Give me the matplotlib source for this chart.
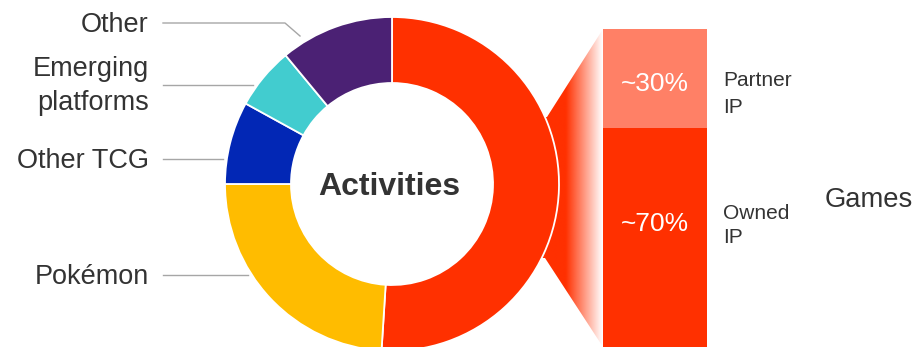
import numpy as np
import matplotlib
matplotlib.use("Agg")
import matplotlib.pyplot as plt
from matplotlib.patches import Polygon

plt.rcParams['font.family'] = ['Liberation Sans', 'DejaVu Sans']

# ---- data ----
categories = ["Games", "Pokémon", "Other TCG", "Emerging\nplatforms", "Other"]
shares = [51, 24, 8, 6, 11]
colors = ["#FF3000", "#FFBC00", "#0227B5", "#42CCCF", "#4B2174"]

games_parts = ["Partner\nIP", "Owned\nIP"]
games_shares = [30, 70]
games_labels = ["~30%", "~70%"]
games_colors = ["#FF8066", "#FF3000"]

center_title = "Activities"
games_title = "Games"

# ---- layout (pixel-like coordinates) ----
W, H = 917, 347
fig = plt.figure(figsize=(W / 100, H / 100), dpi=100)
ax = fig.add_axes([0, 0, 1, 1])

cx, cy, R, r_in = 392, 184, 167, 101
txt = "#333333"
gray = "#A6A6A6"

# connector with gradient (behind donut)
poly_pts = [(603, 29), (547, 117), (500, 117), (500, 258), (545, 258), (603, 347)]
poly = Polygon(poly_pts, closed=True, facecolor="none", edgecolor="none")
ax.add_patch(poly)
xs = np.linspace(495, 603, 300)
alpha = np.clip((603 - xs) / (603 - 566), 0, 1)
img = np.zeros((2, len(xs), 4))
img[..., 0] = 1.0
img[..., 1] = 0x30 / 255
img[..., 2] = 0.0
img[..., 3] = alpha[None, :]
im = ax.imshow(img, extent=(495, 603, 360, 20), aspect="auto", zorder=1,
               interpolation="bilinear")
im.set_clip_path(poly)

# donut
wedges, _ = ax.pie(shares, colors=colors, center=(cx, cy), radius=R,
                   startangle=-90, counterclock=True,
                   wedgeprops=dict(width=R - r_in, edgecolor="white", linewidth=1.3))
for w in wedges:
    w.set_zorder(2)

# stacked bar for games breakdown
scale = 3.3
bar_x, bar_w, bar_top = 655, 104, 29
bottom = bar_top
bar_mids = []
for val, col in zip(games_shares, games_colors):
    h = val * scale
    ax.bar(bar_x, h, width=bar_w, bottom=bottom, color=col, zorder=2)
    bar_mids.append(bottom)
    bottom += h

ax.set_xlim(0, W)
ax.set_ylim(H, 0)
ax.set_aspect("auto")
ax.axis("off")

# center title
ax.text(389, 195, center_title, fontsize=23, fontweight="bold", color=txt,
        ha="center", va="baseline", zorder=5)

# left labels with leader lines
label_info = {
    "Other": dict(baselines=[32], line=[(163, 23), (285, 23), (300, 36)]),
    "Emerging\nplatforms": dict(baselines=[76, 110], line=[(163, 85), (253, 85)]),
    "Other TCG": dict(baselines=[168], line=[(163, 159), (223, 159)]),
    "Pokémon": dict(baselines=[284], line=[(163, 275), (248, 275)]),
}
for cat in categories:
    if cat not in label_info:
        continue
    info = label_info[cat]
    for line_txt, yb in zip(cat.split("\n"), info["baselines"]):
        ax.text(149, yb, line_txt, fontsize=19.5, color=txt, ha="right", va="baseline")
    lx, ly = zip(*info["line"])
    ax.plot(lx, ly, color=gray, lw=1, zorder=3)

# bar labels
pct_baselines = [91, 231]
for lab, yb in zip(games_labels, pct_baselines):
    ax.text(bar_x, yb, lab, fontsize=19, color="white", ha="center", va="baseline", zorder=5)

part_baselines = [[86, 113], [219, 243]]
for part, ybs in zip(games_parts, part_baselines):
    for line_txt, yb in zip(part.split("\n"), ybs):
        ax.text(723, yb, line_txt, fontsize=15, color=txt, ha="left", va="baseline")

ax.text(825, 207, games_title, fontsize=19.7, color=txt, ha="left", va="baseline")

fig.savefig("out.png", dpi=100)
